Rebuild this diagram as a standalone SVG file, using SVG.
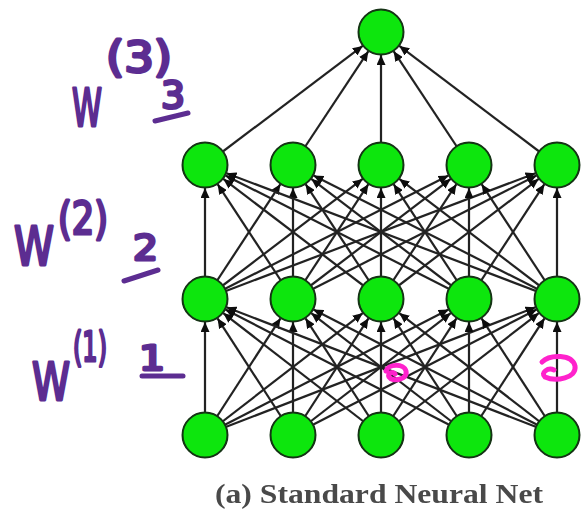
<svg xmlns="http://www.w3.org/2000/svg" width="581" height="514" viewBox="0 0 581 514">
<defs>
<filter id="soft" x="-5%" y="-5%" width="110%" height="110%"><feGaussianBlur stdDeviation="0.7"/></filter>
<marker id="arr" markerUnits="userSpaceOnUse" markerWidth="11" markerHeight="9" refX="10" refY="4.5" orient="auto"><path d="M0,0 L10,4.5 L0,9 z" fill="#111"/></marker>
</defs>
<style>
.e{stroke:#222;stroke-width:2.2;marker-end:url(#arr)}
.n{fill:#0ae60a;stroke:#133313;stroke-width:2}
.hw{fill:#5c2d91;stroke:#5c2d91;stroke-width:3;font-family:"DejaVu Sans",sans-serif;stroke-linejoin:round}
.ul{stroke:#5c2d91;stroke-width:5;stroke-linecap:round;fill:none}
.mk{stroke:#ff22cc;stroke-width:5;stroke-linecap:round;fill:none}
.cap{fill:#4a4a4a;font-family:"Liberation Serif",serif;font-weight:bold;font-size:27px}
</style>
<rect width="581" height="514" fill="#fff"/>
<g filter="url(#soft)">
<g id="connectors">
<line class="e" x1="205" y1="435" x2="205" y2="322"/>
<line class="e" x1="205" y1="435" x2="280.5" y2="318.3"/>
<line class="e" x1="205" y1="435" x2="362.8" y2="313.1"/>
<line class="e" x1="205" y1="435" x2="448.6" y2="309.5"/>
<line class="e" x1="205" y1="435" x2="535.5" y2="307.3"/>
<line class="e" x1="293" y1="435" x2="217.5" y2="318.3"/>
<line class="e" x1="293" y1="435" x2="293" y2="322"/>
<line class="e" x1="293" y1="435" x2="368.5" y2="318.3"/>
<line class="e" x1="293" y1="435" x2="450.8" y2="313.1"/>
<line class="e" x1="293" y1="435" x2="536.6" y2="309.5"/>
<line class="e" x1="381" y1="435" x2="223.2" y2="313.1"/>
<line class="e" x1="381" y1="435" x2="305.5" y2="318.3"/>
<line class="e" x1="381" y1="435" x2="381" y2="322"/>
<line class="e" x1="381" y1="435" x2="456.5" y2="318.3"/>
<line class="e" x1="381" y1="435" x2="538.8" y2="313.1"/>
<line class="e" x1="469" y1="435" x2="225.4" y2="309.5"/>
<line class="e" x1="469" y1="435" x2="311.2" y2="313.1"/>
<line class="e" x1="469" y1="435" x2="393.5" y2="318.3"/>
<line class="e" x1="469" y1="435" x2="469" y2="322"/>
<line class="e" x1="469" y1="435" x2="544.5" y2="318.3"/>
<line class="e" x1="557" y1="435" x2="226.5" y2="307.3"/>
<line class="e" x1="557" y1="435" x2="313.4" y2="309.5"/>
<line class="e" x1="557" y1="435" x2="399.2" y2="313.1"/>
<line class="e" x1="557" y1="435" x2="481.5" y2="318.3"/>
<line class="e" x1="557" y1="435" x2="557" y2="322"/>
<line class="e" x1="205" y1="299" x2="205" y2="188"/>
<line class="e" x1="205" y1="299" x2="280.4" y2="184.2"/>
<line class="e" x1="205" y1="299" x2="362.7" y2="178.9"/>
<line class="e" x1="205" y1="299" x2="448.5" y2="175.4"/>
<line class="e" x1="205" y1="299" x2="535.5" y2="173.2"/>
<line class="e" x1="293" y1="299" x2="217.6" y2="184.2"/>
<line class="e" x1="293" y1="299" x2="293" y2="188"/>
<line class="e" x1="293" y1="299" x2="368.4" y2="184.2"/>
<line class="e" x1="293" y1="299" x2="450.7" y2="178.9"/>
<line class="e" x1="293" y1="299" x2="536.5" y2="175.4"/>
<line class="e" x1="381" y1="299" x2="223.3" y2="178.9"/>
<line class="e" x1="381" y1="299" x2="305.6" y2="184.2"/>
<line class="e" x1="381" y1="299" x2="381" y2="188"/>
<line class="e" x1="381" y1="299" x2="456.4" y2="184.2"/>
<line class="e" x1="381" y1="299" x2="538.7" y2="178.9"/>
<line class="e" x1="469" y1="299" x2="225.5" y2="175.4"/>
<line class="e" x1="469" y1="299" x2="311.3" y2="178.9"/>
<line class="e" x1="469" y1="299" x2="393.6" y2="184.2"/>
<line class="e" x1="469" y1="299" x2="469" y2="188"/>
<line class="e" x1="469" y1="299" x2="544.4" y2="184.2"/>
<line class="e" x1="557" y1="299" x2="226.5" y2="173.2"/>
<line class="e" x1="557" y1="299" x2="313.5" y2="175.4"/>
<line class="e" x1="557" y1="299" x2="399.3" y2="178.9"/>
<line class="e" x1="557" y1="299" x2="481.6" y2="184.2"/>
<line class="e" x1="557" y1="299" x2="557" y2="188"/>
<line class="e" x1="205" y1="165" x2="362.7" y2="45.9"/>
<line class="e" x1="293" y1="165" x2="368.4" y2="51.2"/>
<line class="e" x1="381" y1="165" x2="381" y2="55"/>
<line class="e" x1="469" y1="165" x2="393.6" y2="51.2"/>
<line class="e" x1="557" y1="165" x2="399.3" y2="45.9"/>
</g>
<g id="in1"><circle class="n" cx="205" cy="435" r="22.5"/></g>
<g id="in2"><circle class="n" cx="293" cy="435" r="22.5"/></g>
<g id="in3"><circle class="n" cx="381" cy="435" r="22.5"/></g>
<g id="in4"><circle class="n" cx="469" cy="435" r="22.5"/></g>
<g id="in5"><circle class="n" cx="557" cy="435" r="22.5"/></g>
<g id="h1a"><circle class="n" cx="205" cy="299" r="22.5"/></g>
<g id="h1b"><circle class="n" cx="293" cy="299" r="22.5"/></g>
<g id="h1c"><circle class="n" cx="381" cy="299" r="22.5"/></g>
<g id="h1d"><circle class="n" cx="469" cy="299" r="22.5"/></g>
<g id="h1e"><circle class="n" cx="557" cy="299" r="22.5"/></g>
<g id="h2a"><circle class="n" cx="205" cy="165" r="22.5"/></g>
<g id="h2b"><circle class="n" cx="293" cy="165" r="22.5"/></g>
<g id="h2c"><circle class="n" cx="381" cy="165" r="22.5"/></g>
<g id="h2d"><circle class="n" cx="469" cy="165" r="22.5"/></g>
<g id="h2e"><circle class="n" cx="557" cy="165" r="22.5"/></g>
<g id="out"><circle class="n" cx="381" cy="32" r="22.5"/></g>
<text class="cap" x="215" y="503" textLength="328" lengthAdjust="spacingAndGlyphs">(a) Standard Neural Net</text>
</g>
<g id="annotations">
<text class="hw" x="72" y="126" font-size="52" textLength="30" lengthAdjust="spacingAndGlyphs">W</text>
<text class="hw" x="106" y="72" font-size="42" textLength="66" lengthAdjust="spacingAndGlyphs">(3)</text>
<text class="hw" x="161" y="108" font-size="38" textLength="24" lengthAdjust="spacingAndGlyphs">3</text>
<path class="ul" d="M155,121 L188,113"/>
<text class="hw" x="14" y="265" font-size="54" textLength="40" lengthAdjust="spacingAndGlyphs">W</text>
<text class="hw" x="58" y="234" font-size="44" textLength="50" lengthAdjust="spacingAndGlyphs">(2)</text>
<text class="hw" x="133" y="260" font-size="36" textLength="25" lengthAdjust="spacingAndGlyphs">2</text>
<path class="ul" d="M124,281 L158,270"/>
<text class="hw" x="32" y="400" font-size="52" textLength="38" lengthAdjust="spacingAndGlyphs">W</text>
<text class="hw" x="73" y="361" font-size="40" textLength="34" lengthAdjust="spacingAndGlyphs">(1)</text>
<text class="hw" x="139" y="370" font-size="34" textLength="26" lengthAdjust="spacingAndGlyphs">1</text>
<path class="ul" d="M142,376 L183,376"/>
<path class="mk" d="M386,371 C388,364 404,363 406,371 C408,380 392,382 389,377 C387,373 393,371 395,374"/>
<path class="mk" d="M542,362 C550,354 572,354 575,366 C577,378 556,382 545,377 C540,373 548,367 554,370"/>
</g>
</svg>
